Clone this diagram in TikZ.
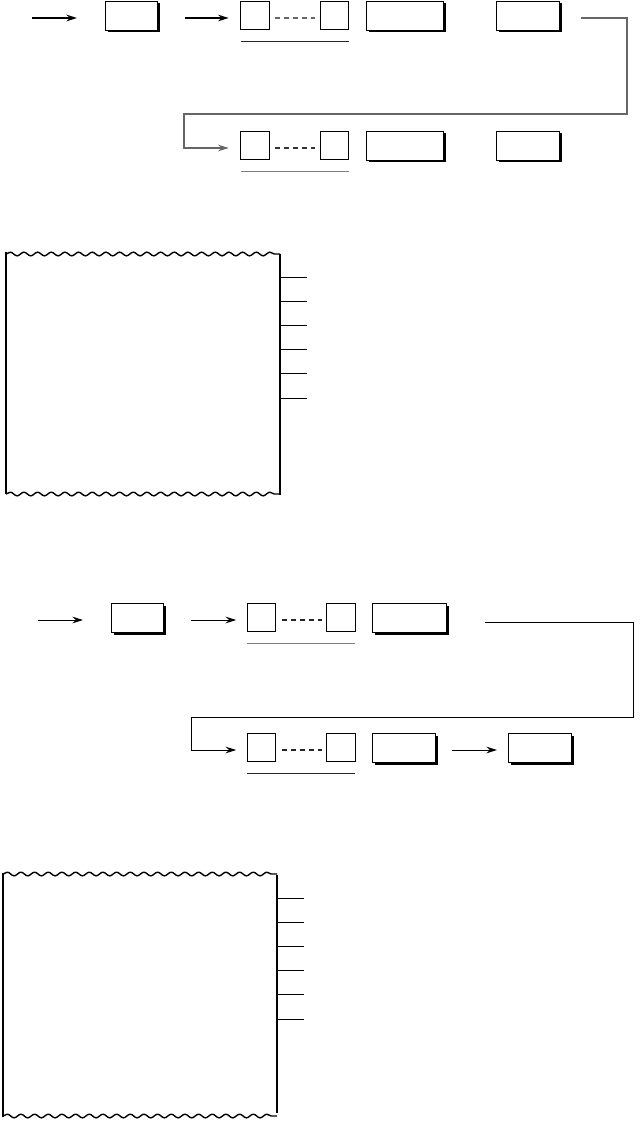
\documentclass[tikz,border=0pt]{standalone}
\usepackage{amsmath}
\usepackage{amssymb}
\usepackage{tikz}
\usetikzlibrary{arrows.meta,shadows,decorations.pathmorphing}

\begin{document}
\begin{tikzpicture}[x=0.3mm,y=-0.3mm]
		\tikzset{blk/.style={draw,line width=0.8pt,fill=white,inner sep=0pt,outer sep=0pt,minimum height=8.7mm,minimum width=#1,drop shadow={shadow xshift=0.75mm,shadow yshift=-0.75mm,fill=black,opacity=1}}};
		\tikzset{cell/.style={draw,line width=0.8pt,fill=white,inner sep=0pt,outer sep=0pt,minimum width=8.6mm,minimum height=8.5mm}};
		\tikzset{arr/.style={-{Stealth[length=3.2mm,width=2mm,inset=1.1mm]},line width=#1},arr/.default=0.8pt};
		\tikzset{dots/.style={dash pattern=on 1.5mm off 1.2mm,line width=0.9pt,shorten <=1.8mm,shorten >=1.5mm}};
		\tikzset{uline/.style={line width=0.9pt,#1},uline/.default=black!85};
		\tikzset{wave/.style={decorate,decoration={snake,segment length=4.1mm,amplitude=0.55mm},line width=1.2pt,line join=round}};
		\tikzset{side/.style={line width=1.5pt}};
		\useasboundingbox (0,0) rectangle (640,1121);
		\coordinate (in1) at (32,18);
		\coordinate (in2) at (185,18);
		\node[blk=15.6mm] (b1) at (131,15.5) {};
		\node[cell] (s1) at (255,15.5) {};
		\node[cell] (s2) at (334.5,15.5) {};
		\node[blk=23.1mm] (b2) at (404.5,15.5) {};
		\node[blk=18.9mm] (b3) at (527.5,15.5) {};
		\draw[arr=1.5pt,shorten >=8.4mm] (in1) -- ([yshift=-0.75mm]b1.west);
		\draw[arr=1.5pt,shorten >=3.6mm] (in2) -- ([yshift=-0.75mm]s1.west);
		\draw[dots,black!60] ([yshift=-0.75mm]s1.east) -- ([yshift=-0.75mm]s2.west);
		\draw[uline] ([yshift=-3.6mm]s1.south west) -- ([yshift=-3.6mm]s2.south east);
		\node[cell] (s3) at (255,145.5) {};
		\node[cell] (s4) at (334.5,145.5) {};
		\node[blk=23.1mm] (b4) at (404.5,145.5) {};
		\node[blk=18.9mm] (b5) at (527.5,145.5) {};
		\coordinate (out1) at (581,18);
		\coordinate (in3) at (184,148);
		\draw[arr,black!60,line width=1.1pt,shorten >=3.6mm] (out1) -| (627,114) -| (in3) -- ([yshift=-0.75mm]s3.west);
		\draw[dots,black!80] ([yshift=-0.75mm]s3.east) -- ([yshift=-0.75mm]s4.west);
		\draw[uline=black!50] ([yshift=-3.6mm]s3.south west) -- ([yshift=-3.6mm]s4.south east);
		\draw[side] (6,252) -- (6,494);
		\draw[side] (280,254) -- (280,495);
		\draw[wave] (6,254) -- (280,254);
		\draw[wave] (6,494) -- (280,494);
		\foreach \k in {0,...,5}
			\draw[line width=0.8pt] (280,{277+24.2*\k}) -- (307,{277+24.2*\k});
		\coordinate (in4) at (38,620);
		\coordinate (in5) at (191,620);
		\node[blk=15.6mm] (b6) at (137,617.5) {};
		\node[cell] (s5) at (261.5,617.5) {};
		\node[cell] (s6) at (341,617.5) {};
		\node[blk=22.2mm] (b7) at (409,617.5) {};
		\draw[arr,shorten >=8.4mm] (in4) -- ([yshift=-0.75mm]b6.west);
		\draw[arr,shorten >=3.3mm] (in5) -- ([yshift=-0.75mm]s5.west);
		\draw[dots,black!85] ([yshift=-0.75mm]s5.east) -- ([yshift=-0.75mm]s6.west);
		\draw[uline=black!50] ([yshift=-3.6mm]s5.south west) -- ([yshift=-3.6mm]s6.south east);
		\node[cell] (s7) at (261.5,747.5) {};
		\node[cell] (s8) at (341,747.5) {};
		\node[blk=18.9mm] (b8) at (403.5,747.5) {};
		\node[blk=18.9mm] (b9) at (539.5,747.5) {};
		\coordinate (out2) at (485,622);
		\coordinate (in6) at (191,750);
		\draw[arr,shorten >=3.3mm] (out2) -| (633,717) -| (in6) -- ([yshift=-0.75mm]s7.west);
		\draw[dots,black!85] ([yshift=-0.75mm]s7.east) -- ([yshift=-0.75mm]s8.west);
		\draw[uline] ([yshift=-3.6mm]s7.south west) -- ([yshift=-3.6mm]s8.south east);
		\draw[arr,shorten <=5.1mm,shorten >=3.3mm] ([yshift=-0.75mm]b8.east) -- ([yshift=-0.75mm]b9.west);
		\draw[side] (3,873) -- (3,1117);
		\draw[side] (277,875) -- (277,1113);
		\draw[wave] (3,874) -- (277,874);
		\draw[wave] (3,1116) -- (277,1116);
		\foreach \k in {0,...,5}
			\draw[line width=0.8pt] (277,{898+24.2*\k}) -- (304,{898+24.2*\k});
	\end{tikzpicture}
\end{document}
